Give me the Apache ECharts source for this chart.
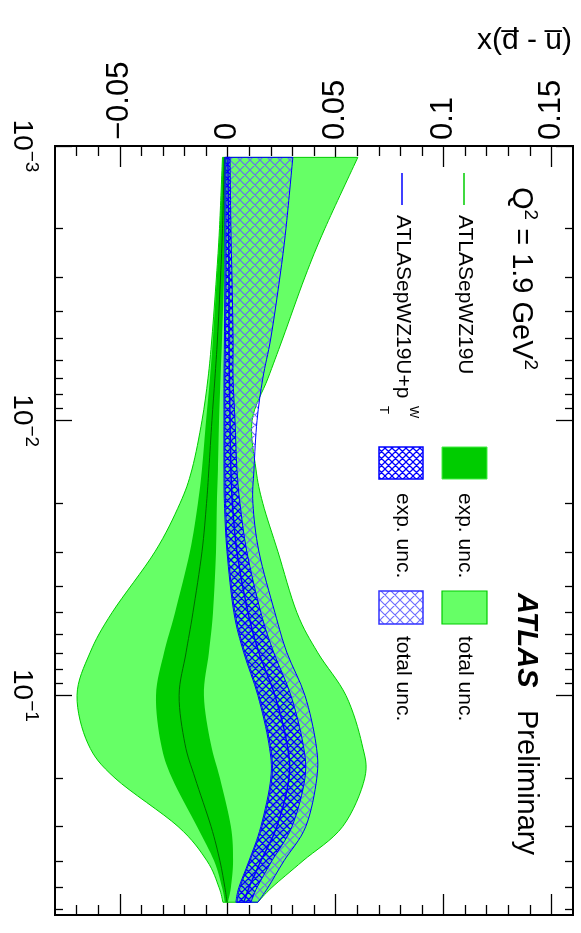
<!DOCTYPE html>
<html><head><meta charset="utf-8">
<script src="https://cdn.jsdelivr.net/npm/echarts@6/dist/echarts.min.js"></script>
<style>html,body{margin:0;padding:0;background:#fff}#c{width:581px;height:933px}</style>
</head><body><div id="c"></div>
<script>
// ---- data (x = Bjorken x, values = x(dbar - ubar)) ----
const xPoints = [0.0011, 0.002, 0.003, 0.005, 0.007, 0.01, 0.015, 0.02, 0.03, 0.05, 0.07, 0.1, 0.15, 0.2, 0.3, 0.4, 0.5, 0.566];
const greenTotalLow  = [-0.0024,-0.0038,-0.0052,-0.0073,-0.0091,-0.0119,-0.0165,-0.0221,-0.0337,-0.0536,-0.0638,-0.0698,-0.0647,-0.0522,-0.0230,-0.0096,-0.0040,-0.0022];
const greenTotalHigh = [0.0603,0.0450,0.0358,0.0256,0.0187,0.0113,0.0131,0.0163,0.0233,0.0321,0.0418,0.0548,0.0622,0.0635,0.0533,0.0349,0.0205,0.0140];
const greenExpLow    = [-0.0022,-0.0036,-0.0050,-0.0068,-0.0082,-0.0100,-0.0119,-0.0138,-0.0175,-0.0244,-0.0295,-0.0332,-0.0309,-0.0258,-0.0142,-0.0063,-0.0026,-0.0013];
const greenExpHigh   = [-0.0006,-0.0013,-0.0017,-0.0026,-0.0033,-0.0040,-0.0045,-0.0050,-0.0054,-0.0068,-0.0087,-0.0110,-0.0078,-0.0036,0.0015,0.0025,0.0015,0.0001];
const greenCentral   = [-0.0015,-0.0024,-0.0033,-0.0047,-0.0059,-0.0073,-0.0087,-0.0098,-0.0119,-0.0161,-0.0193,-0.0225,-0.0198,-0.0151,-0.0077,-0.0036,-0.0013,-0.0003];
const blueTotalLow   = [-0.0013,-0.0013,-0.0013,-0.0015,-0.0017,-0.0017,-0.0017,-0.0015,-0.0003,0.0029,0.0075,0.0140,0.0191,0.0200,0.0154,0.0099,0.0052,0.0038];
const blueTotalHigh  = [0.0302,0.0270,0.0242,0.0200,0.0163,0.0136,0.0122,0.0117,0.0145,0.0219,0.0275,0.0358,0.0409,0.0413,0.0362,0.0261,0.0187,0.0140];
const blueExpLow     = [-0.0008,-0.0008,-0.0008,-0.0010,-0.0013,-0.0013,-0.0013,-0.0010,0.0001,0.0034,0.0080,0.0145,0.0196,0.0205,0.0159,0.0103,0.0057,0.0043];
const blueExpHigh    = [0.0011,0.0015,0.0020,0.0025,0.0025,0.0034,0.0043,0.0057,0.0089,0.0154,0.0214,0.0293,0.0349,0.0358,0.0298,0.0205,0.0136,0.0108];
const blueCentral    = [0.0001,0.0004,0.0006,0.0006,0.0008,0.0011,0.0015,0.0022,0.0043,0.0094,0.0145,0.0219,0.0275,0.0284,0.0228,0.0154,0.0099,0.0075];

// ---- ticks ----
const valueMajorTicks = [-0.05, 0, 0.05, 0.1, 0.15];
const valueMinorTicks = [-0.07,-0.06,-0.04,-0.03,-0.02,-0.01,0.01,0.02,0.03,0.04,0.06,0.07,0.08,0.09,0.11,0.12,0.13,0.14];
const logMajorTicks = [0.001, 0.01, 0.1];
const logMinorTicks = [0.002,0.003,0.004,0.005,0.006,0.007,0.008,0.009,0.02,0.03,0.04,0.05,0.06,0.07,0.08,0.09,0.2,0.3,0.4,0.5,0.6];

const FF = '"Liberation Sans", Arial, Helvetica, sans-serif';
const ROT = -Math.PI / 2;

function hatch(size, color, lw) {
  const c = document.createElement('canvas');
  c.width = size; c.height = size;
  const g = c.getContext('2d');
  g.strokeStyle = color; g.lineWidth = lw;
  g.beginPath();
  for (const o of [-size, 0, size]) {
    g.moveTo(-1 + o, -1); g.lineTo(size + 1 + o, size + 1);
    g.moveTo(size + 1 + o, -1); g.lineTo(-1 + o, size + 1);
  }
  g.stroke();
  return c;
}
const hatchTotal = hatch(10, 'rgba(100,100,255,0.95)', 1.1);
const hatchExp = hatch(7, '#0000ff', 1.3);

function fmt(p) { return p[0].toFixed(2) + ' ' + p[1].toFixed(2); }
function curve(p) {
  let s = '';
  for (let i = 0; i < p.length - 1; i++) {
    const p0 = p[Math.max(i - 1, 0)], p1 = p[i], p2 = p[i + 1], p3 = p[Math.min(i + 2, p.length - 1)];
    const c1 = [p1[0] + (p2[0] - p0[0]) / 6, p1[1] + (p2[1] - p0[1]) / 6];
    const c2 = [p2[0] - (p3[0] - p1[0]) / 6, p2[1] - (p3[1] - p1[1]) / 6];
    s += ' C' + fmt(c1) + ' ' + fmt(c2) + ' ' + fmt(p2);
  }
  return s;
}
function bandSeries(name, lo, hi, style) {
  return {
    name, type: 'custom', coordinateSystem: 'cartesian2d', xAxisIndex: 0, yAxisIndex: 0, silent: true, z: 2,
    data: xPoints.map((x, i) => [lo[i], x, hi[i]]),
    encode: { x: 0, y: 1 },
    renderItem(params, api) {
      if (params.dataIndex !== 0) return null;
      const a = lo.map((v, i) => api.coord([v, xPoints[i]]));
      const b = hi.map((v, i) => api.coord([v, xPoints[i]])).reverse();
      const d = 'M' + fmt(a[0]) + curve(a) + ' L' + fmt(b[0]) + curve(b) + ' Z';
      return { type: 'path', shape: { pathData: d }, style: Object.assign({}, style) };
    }
  };
}
function lineSeries(name, vals, color, width) {
  return {
    name, type: 'custom', coordinateSystem: 'cartesian2d', xAxisIndex: 0, yAxisIndex: 0, silent: true, z: 2,
    data: xPoints.map((x, i) => [vals[i], x]),
    encode: { x: 0, y: 1 },
    renderItem(params, api) {
      if (params.dataIndex !== 0) return null;
      const a = vals.map((v, i) => api.coord([v, xPoints[i]]));
      return { type: 'path', shape: { pathData: 'M' + fmt(a[0]) + curve(a) }, style: { fill: null, stroke: color, lineWidth: width } };
    }
  };
}

function xAx(pos, ticks, len, withLabels) {
  return {
    type: 'value', position: pos, min: -0.08, max: 0.16,
    axisLine: { show: true, onZero: false, lineStyle: { color: '#000', width: 2 } },
    axisTick: { show: true, inside: true, length: len, customValues: ticks, lineStyle: { color: '#000', width: 1.3 } },
    axisLabel: withLabels ? {
      show: true, customValues: ticks, rotate: -90, margin: 6, color: '#000', fontSize: 31, fontFamily: FF,
      formatter: v => (v < 0 ? '\u2212' : '') + String(Math.abs(+(+v).toFixed(3)))
    } : { show: false },
    splitLine: { show: false }
  };
}
function yAx(pos, ticks, len, withLabels) {
  return {
    type: 'log', logBase: 10, position: pos, min: 0.001, max: 0.63, inverse: true,
    axisLine: { show: true, onZero: false, lineStyle: { color: '#000', width: 2 } },
    axisTick: { show: true, inside: true, length: len, customValues: ticks, lineStyle: { color: '#000', width: 1.3 } },
    axisLabel: withLabels ? {
      show: true, customValues: ticks, rotate: -90, margin: 14, color: '#000', fontFamily: FF,
      formatter: v => '{b|10}{s|\u2212' + Math.abs(Math.round(Math.log10(v))) + '}',
      rich: {
        b: { fontSize: 28, fontFamily: FF, color: '#000', lineHeight: 33, verticalAlign: 'bottom' },
        s: { fontSize: 19, fontFamily: FF, color: '#000', verticalAlign: 'top' }
      }
    } : { show: false },
    splitLine: { show: false }, minorTick: { show: false }
  };
}

function rtext(x, y, text, size, extra) {
  return Object.assign({
    type: 'text', x, y, rotation: ROT, silent: true,
    style: { text, fill: '#000', fontSize: size, fontFamily: FF, align: 'left', verticalAlign: 'middle' }
  }, extra || {});
}

const graphics = [
  { type: 'text', x: 477, y: 41, silent: true,
    style: { text: 'x(d\u0305 - u\u0305)', fill: '#000', fontSize: 30, fontFamily: FF, align: 'left', verticalAlign: 'middle' } },
  { type: 'text', x: 523, y: 187, rotation: ROT, silent: true,
    style: { text: '{m|Q}{s|2}{m| = 1.9 GeV}{s|2}', align: 'left', verticalAlign: 'middle',
      rich: { m: { fontSize: 29, fontFamily: FF, fill: '#000', color: '#000', lineHeight: 34, verticalAlign: 'bottom' },
              s: { fontSize: 19, fontFamily: FF, fill: '#000', color: '#000', verticalAlign: 'top' } } } },
  { type: 'line', silent: true, shape: { x1: 464, y1: 173, x2: 464, y2: 205 }, style: { stroke: '#00cc00', lineWidth: 1.5 } },
  { type: 'line', silent: true, shape: { x1: 402, y1: 173, x2: 402, y2: 205 }, style: { stroke: '#0000ff', lineWidth: 1.5 } },
  rtext(465, 215, 'ATLASepWZ19U', 21),
  rtext(403, 215, 'ATLASepWZ19U+p', 21),
  rtext(414, 406, 'W', 13),
  rtext(384, 406, 'T', 13),
  { type: 'rect', silent: true, shape: { x: 442, y: 447, width: 45, height: 32 }, style: { fill: '#00cc00', stroke: '#44ee44', lineWidth: 1 } },
  { type: 'rect', silent: true, shape: { x: 442, y: 591, width: 45, height: 33 }, style: { fill: '#66ff66', stroke: '#00cc00', lineWidth: 1.2 } },
  { type: 'rect', silent: true, shape: { x: 379, y: 447, width: 44, height: 32 }, style: { fill: { image: hatchExp, repeat: 'repeat' }, stroke: '#0000ff', lineWidth: 1.5 } },
  { type: 'rect', silent: true, shape: { x: 379, y: 591, width: 44, height: 33 }, style: { fill: { image: hatchTotal, repeat: 'repeat' }, stroke: '#3333ff', lineWidth: 1.5 } },
  rtext(465, 493, 'exp. unc.', 21),
  rtext(465, 636, 'total unc.', 21),
  rtext(403, 493, 'exp. unc.', 21),
  rtext(403, 636, 'total unc.', 21),
  { type: 'text', x: 526, y: 593, rotation: ROT, silent: true,
    style: { text: 'ATLAS', fill: '#000', fontSize: 29, fontWeight: 'bold', fontStyle: 'italic', fontFamily: FF, align: 'left', verticalAlign: 'middle' } },
  rtext(526, 710, 'Preliminary', 29)
];

const chart = echarts.init(document.getElementById('c'), null, { renderer: 'canvas' });
chart.setOption({
  animation: false,
  backgroundColor: '#ffffff',
  grid: { left: 55, top: 146, width: 518, height: 769, containLabel: false, outerBoundsMode: 'none' },
  xAxis: [
    xAx('top', valueMajorTicks, 21, true),
    xAx('top', valueMinorTicks, 10, false),
    xAx('bottom', valueMajorTicks, 21, false),
    xAx('bottom', valueMinorTicks, 10, false)
  ],
  yAxis: [
    yAx('left', logMajorTicks, 17, true),
    yAx('left', logMinorTicks, 8, false),
    yAx('right', logMajorTicks, 17, false),
    yAx('right', logMinorTicks, 8, false)
  ],
  series: [
    bandSeries('ATLASepWZ19U total unc.', greenTotalLow, greenTotalHigh, { fill: '#66ff66', stroke: '#00cc00', lineWidth: 1 }),
    bandSeries('ATLASepWZ19U exp. unc.', greenExpLow, greenExpHigh, { fill: '#00cc00', stroke: null }),
    lineSeries('ATLASepWZ19U', greenCentral, '#006a00', 1),
    bandSeries('ATLASepWZ19U+pTW total unc.', blueTotalLow, blueTotalHigh, { fill: { image: hatchTotal, repeat: 'repeat' }, stroke: '#0000ff', lineWidth: 1 }),
    bandSeries('ATLASepWZ19U+pTW exp. unc.', blueExpLow, blueExpHigh, { fill: { image: hatchExp, repeat: 'repeat' }, stroke: '#0000ff', lineWidth: 1 }),
    lineSeries('ATLASepWZ19U+pTW', blueCentral, '#0000ff', 1.5)
  ],
  graphic: graphics
});
</script>
</body></html>
